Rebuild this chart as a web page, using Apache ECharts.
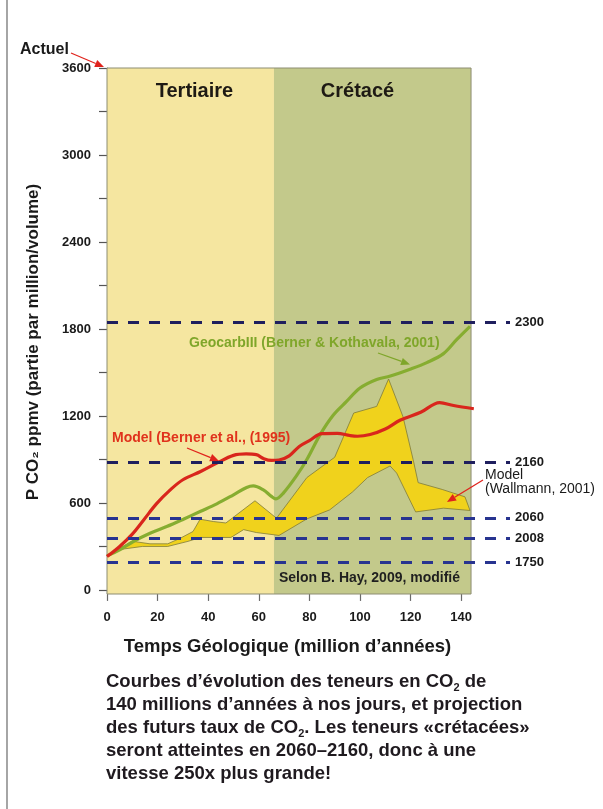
<!DOCTYPE html>
<html><head><meta charset="utf-8">
<script src="https://cdn.jsdelivr.net/npm/echarts@6/dist/echarts.min.js"></script>
<style>html,body{margin:0;padding:0;background:#fff}#c{width:603px;height:809px}</style>
</head><body><div id="c"></div>
<script>
// ---- data ----
const xTicks = [0, 20, 40, 60, 80, 100, 120, 140];
const yTicks = [0, 600, 1200, 1800, 2400, 3000, 3600];
const yMinorTicks = [0, 300, 600, 900, 1200, 1500, 1800, 2100, 2400, 2700, 3000, 3300, 3600];
const periodNames = ['Tertiaire', 'Crétacé'];
const periodBounds = [0, 66, 143.9];
// Model (Berner et al., 1995): [age Ma, ppmv]
const berner = [[0,230],[5,300],[10,385],[14.5,483],[19.6,595],[25,690],[30,760],[37,817],[43.4,875],[50,928],[55,938],[59,933],[62,905],[65,893],[68,896],[72,925],[76,990],[80,1030],[85,1078],[91,1080],[96,1065],[99,1060],[104,1072],[110,1110],[116,1172],[124,1225],[131.5,1292],[137,1272],[145,1250]];
// GeocarbIII (Berner & Kothavala, 2001)
const geocarb = [[0,235],[5,276],[10.4,334],[17,391],[23.6,437],[30.2,488],[36.8,541],[43.4,594],[50,656],[55.2,707],[57.8,718],[61.8,690],[65,645],[66.8,628],[69.7,668],[75,790],[79,900],[84.2,1070],[89.4,1205],[94.7,1300],[100,1393],[106.6,1452],[112,1475],[119.8,1522],[126.4,1568],[133,1630],[138.2,1726],[143.5,1818]];
// Model (Wallmann, 2001) band: upper and lower edges
const wallmannUpper = [[3.8,276],[10,336],[17,318],[24,318],[29,357],[34,403],[36.8,488],[42,472],[47,462],[58.5,615],[67,495],[79,775],[90,915],[97.5,1220],[106.6,1266],[111.3,1455],[117,1195],[121,900],[123,740],[132.5,693],[141.5,642],[143.5,548]];
const wallmannLower = [[3.8,276],[14,300],[24,300],[32,335],[37,362],[49,362],[54,416],[59,396],[68,376],[79,490],[88,552],[97,675],[103,775],[111.9,855],[114.5,806],[122,538],[133,564],[143.5,548]];
// projections (dashed lines)
const projYears = ['2300', '2160', '2060', '2008', '1750'];
const projValues = [1846, 879, 497, 357, 189];

// ---- chart ----
const FF = '"Liberation Sans", Arial, Helvetica, sans-serif';
const chart = echarts.init(document.getElementById('c'), null, {renderer: 'canvas'});

function arrow(x1, y1, x2, y2, color) {
  const a = Math.atan2(y2 - y1, x2 - x1), L = 9, W = 3.8;
  const bx = x2 - L * Math.cos(a), by = y2 - L * Math.sin(a);
  return [
    {type: 'line', z: 100, silent: true, shape: {x1: x1, y1: y1, x2: bx, y2: by}, style: {stroke: color, lineWidth: 1.3}},
    {type: 'polygon', z: 100, silent: true, shape: {points: [[x2, y2], [bx + W * Math.sin(a), by - W * Math.cos(a)], [bx - W * Math.sin(a), by + W * Math.cos(a)]]}, style: {fill: color}}
  ];
}
function txt(x, y, text, size, weight, color, extra) {
  return {type: 'text', z: 100, silent: true, x: x, y: y, style: Object.assign({text: text, fontSize: size, fontWeight: weight, fontFamily: FF, fill: color, verticalAlign: 'middle'}, extra || {})};
}

const panelColors = ['#f5e6a0', '#c3c98b'];
const labelOffsets = [[4, 0], [-15, 0]];
const panelAreas = periodNames.map((n, i) => [
  {xAxis: periodBounds[i], yAxis: -28, name: n, itemStyle: {color: panelColors[i]}, label: {offset: labelOffsets[i]}},
  {xAxis: periodBounds[i + 1], yAxis: 3600}
]);
panelAreas.push([
  {xAxis: periodBounds[0], yAxis: -28, itemStyle: {color: 'rgba(0,0,0,0)', borderColor: '#8d8d72', borderWidth: 1}, label: {show: false}},
  {xAxis: periodBounds[2], yAxis: 3600}
]);

const projColors = ['#1f1f5e', '#1f1f5e', '#283490', '#283490', '#283490'];
const projLines = projValues.map((v, i) => ({
  yAxis: v,
  lineStyle: {color: projColors[i]},
  label: {formatter: projYears[i]}
}));

const graphics = [].concat(
  [{type: 'line', silent: true, shape: {x1: 7, y1: 0, x2: 7, y2: 809}, style: {stroke: '#6a6a6a', lineWidth: 1.2}}],
  [txt(20, 50, 'Actuel', 16, 'bold', '#1a1a1a')],
  arrow(71, 53, 104, 67, '#e0231c'),
  [txt(189, 343, 'GeocarbIII (Berner & Kothavala, 2001)', 14, 'bold', '#7fa62a')],
  arrow(378, 353, 410, 364.5, '#7fa62a'),
  [txt(112, 438, 'Model (Berner et al., (1995)', 14, 'bold', '#e0321c')],
  arrow(187, 448, 219, 461, '#e0231c'),
  [txt(485, 482, 'Model\n(Wallmann, 2001)', 14, 'normal', '#1a1a1a', {lineHeight: 14})],
  arrow(483, 480, 447, 502, '#e0231c'),
  [txt(279, 578, 'Selon B. Hay, 2009, modifié', 14, 'bold', '#1f1f1f')],
  [txt(106, 670, 'Courbes d’évolution des teneurs en CO{s|2} de\n140 millions d’années à nos jours, et projection\ndes futurs taux de CO{s|2}. Les teneurs «crétacées»\nseront atteintes en 2060–2160, donc à une\nvitesse 250x plus grande!', 18.5, 'bold', '#1f1a1f',
    {verticalAlign: 'top', lineHeight: 23, rich: {s: {fontSize: 11, fontWeight: 'bold', fontFamily: FF, fill: '#1f1a1f', verticalAlign: 'bottom', lineHeight: 15}}})]
);

const plain = v => String(v);

chart.setOption({
  animation: false,
  backgroundColor: '#ffffff',
  grid: {left: 107, right: 93, top: 68, bottom: 215},
  xAxis: {
    type: 'value', min: 0, max: 159.3,
    axisLine: {show: false},
    splitLine: {show: false},
    axisTick: {show: true, customValues: xTicks, length: 11, lineStyle: {color: '#6a6a6a', width: 1.2}},
    axisLabel: {customValues: xTicks, formatter: plain, margin: 17, fontSize: 13, fontWeight: 'bold', color: '#1a1a1a', fontFamily: FF},
    name: 'Temps Géologique (million d’années)', nameLocation: 'middle', nameGap: 43,
    nameTextStyle: {fontSize: 18.5, fontWeight: 'bold', color: '#1a1a1a', fontFamily: FF, padding: [0, 42, 0, 0]}
  },
  yAxis: {
    type: 'value', min: -28, max: 3600,
    axisLine: {show: true, lineStyle: {color: '#8d8d72', width: 1}},
    splitLine: {show: false},
    axisTick: {show: true, customValues: yMinorTicks, length: 8, lineStyle: {color: '#555', width: 1.2}},
    axisLabel: {customValues: yTicks, formatter: plain, margin: 16, fontSize: 13, fontWeight: 'bold', color: '#1a1a1a', fontFamily: FF},
    name: 'P CO₂ ppmv (partie par million/volume)', nameLocation: 'middle', nameGap: 65, nameRotate: 90,
    nameTextStyle: {fontSize: 17, fontWeight: 'bold', color: '#1a1a1a', fontFamily: FF, padding: [0, 22, 0, 0]}
  },
  series: [
    {
      type: 'custom', name: 'Wallmann', z: 2, silent: true,
      data: [[0, 0]],
      renderItem: function (params, api) {
        const pts = wallmannUpper.concat(wallmannLower.slice().reverse()).map(p => api.coord(p));
        return {type: 'polygon', shape: {points: pts}, style: {fill: '#f0d21c', stroke: '#7f7b3a', lineWidth: 0.8}};
      }
    },
    {
      type: 'line', name: 'GeocarbIII', z: 3, data: geocarb, smooth: 0.35, symbol: 'none', silent: true,
      lineStyle: {color: '#86ad30', width: 3.2}
    },
    {
      type: 'line', name: 'Berner', z: 3, data: berner, smooth: 0.35, symbol: 'none', silent: true,
      lineStyle: {color: '#d9261c', width: 3.2},
      markArea: {
        silent: true, z: 1,
        label: {show: true, position: 'insideTop', distance: 13, fontSize: 20, fontWeight: 'bold', color: '#1e1a14', fontFamily: FF},
        data: panelAreas
      },
      markLine: {
        silent: true, symbol: ['none', 'none'],
        lineStyle: {type: [11, 10], width: 3.2},
        label: {show: true, position: 'end', distance: 5, fontSize: 13, fontWeight: 'bold', color: '#1a1a1a', fontFamily: FF},
        data: projLines
      }
    }
  ],
  graphic: graphics
});
</script>
</body></html>
